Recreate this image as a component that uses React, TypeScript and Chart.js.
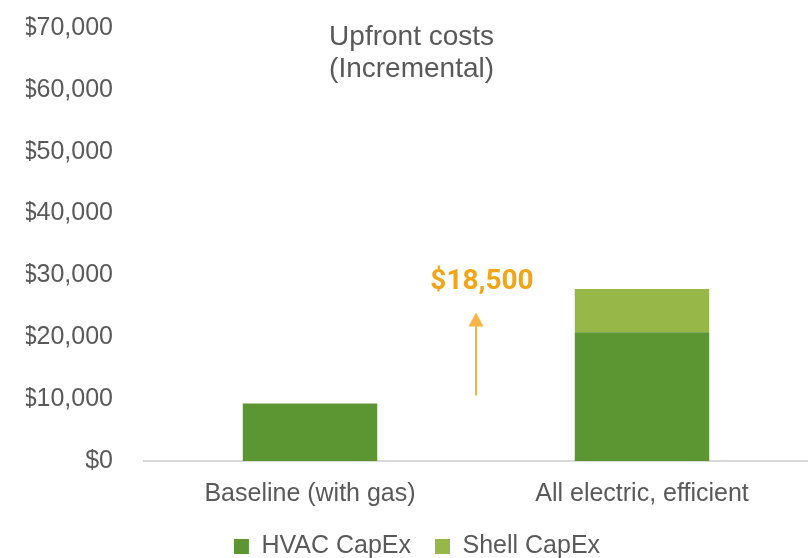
import React, { useEffect, useRef } from "react";
import { Chart, registerables } from "chart.js";

Chart.register(...registerables);

const categories = ["Baseline (with gas)", "All electric, efficient"];
const seriesNames = ["HVAC CapEx", "Shell CapEx"];
const hvacCapex = [9300, 20800];
const shellCapex = [0, 7000];
const yTickValues = [0, 10000, 20000, 30000, 40000, 50000, 60000, 70000];
const titleLines = ["Upfront costs", "(Incremental)"];
const deltaLabel = "$18,500";
const arrowFromValue = 10600;
const arrowToValue = 24000;
const deltaLabelValue = 29000;

const FONT = '"Liberation Sans", Arial, sans-serif';
const TEXT_GRAY = "#595959";
const HVAC_COLOR = "#5B9632";
const SHELL_COLOR = "#97B848";
const ORANGE_TEXT = "#F2A516";
const ORANGE_LINE = "#F7B446";

const fmt = (v: number) => "$" + v.toLocaleString("en-US");

const annotationPlugin = {
  id: "upfrontAnnotations",
  afterDatasetsDraw(chart: any) {
    const { ctx, chartArea, scales } = chart;
    const x = scales.x;
    const y = scales.y;
    ctx.save();
    // Title inside plot
    ctx.font = `28px ${FONT}`;
    ctx.fillStyle = TEXT_GRAY;
    ctx.textAlign = "center";
    ctx.textBaseline = "alphabetic";
    const tx = chartArea.left + chartArea.width * 0.403;
    ctx.fillText(titleLines[0], tx, chartArea.top + 17);
    ctx.fillText(titleLines[1], tx, chartArea.top + 49);

    // Arrow between categories
    const ax = (x.getPixelForValue(0) + x.getPixelForValue(1)) / 2;
    const yFrom = y.getPixelForValue(arrowFromValue);
    const yTo = y.getPixelForValue(arrowToValue);
    ctx.strokeStyle = ORANGE_LINE;
    ctx.lineWidth = 2;
    ctx.beginPath();
    ctx.moveTo(ax, yFrom);
    ctx.lineTo(ax, yTo + 12);
    ctx.stroke();
    ctx.fillStyle = ORANGE_LINE;
    ctx.beginPath();
    ctx.moveTo(ax, yTo);
    ctx.lineTo(ax - 7.5, yTo + 14);
    ctx.lineTo(ax + 7.5, yTo + 14);
    ctx.closePath();
    ctx.fill();

    // Delta label
    ctx.font = `bold 28px Roboto, ${FONT}`;
    ctx.fillStyle = ORANGE_TEXT;
    ctx.textAlign = "center";
    ctx.textBaseline = "middle";
    ctx.fillText(deltaLabel, ax + 6, y.getPixelForValue(deltaLabelValue));
    ctx.restore();
  },
};

export default function App() {
  const canvasRef = useRef<HTMLCanvasElement | null>(null);

  useEffect(() => {
    if (!canvasRef.current) return;
    const chart = new Chart(canvasRef.current, {
      type: "bar",
      data: {
        labels: categories,
        datasets: [
          {
            label: seriesNames[0],
            data: hvacCapex,
            backgroundColor: HVAC_COLOR,
            borderWidth: 0,
          },
          {
            label: seriesNames[1],
            data: shellCapex,
            backgroundColor: SHELL_COLOR,
            borderWidth: 0,
          },
        ],
      },
      options: {
        animation: false,
        responsive: true,
        maintainAspectRatio: false,
        layout: { padding: { top: 28, left: 26, right: 0, bottom: 0 } },
        datasets: {
          bar: { categoryPercentage: 1, barPercentage: 0.405 },
        },
        plugins: {
          title: { display: false },
          tooltip: { enabled: false },
          legend: {
            display: true,
            position: "bottom",
            labels: {
              font: { family: FONT, size: 25 },
              color: TEXT_GRAY,
              boxWidth: 15,
              boxHeight: 15,
              padding: 24,
            },
          },
        },
        scales: {
          x: {
            stacked: true,
            grid: { display: false, drawTicks: false },
            border: { display: true, color: "#D9D9D9", width: 2 },
            afterFit: (axis: any) => {
              axis.height = 49;
              axis.paddingLeft = 0;
              axis.paddingRight = 0;
            },
            ticks: {
              font: { family: FONT, size: 25 },
              color: TEXT_GRAY,
              padding: 18,
              maxRotation: 0,
            },
          },
          y: {
            stacked: true,
            min: yTickValues[0],
            max: yTickValues[yTickValues.length - 1],
            grid: { display: false, drawTicks: false },
            border: { display: false },
            afterFit: (axis: any) => {
              axis.width = 118;
              axis.paddingTop = 0;
              axis.paddingBottom = 0;
            },
            afterBuildTicks: (axis: any) => {
              axis.ticks = yTickValues.map((v) => ({ value: v }));
            },
            ticks: {
              font: { family: FONT, size: 25 },
              color: TEXT_GRAY,
              padding: 31,
              callback: (v: any) => fmt(Number(v)),
            },
          },
        },
      },
      plugins: [annotationPlugin],
    });
    return () => chart.destroy();
  }, []);

  return (
    <div style={{ position: "absolute", left: 0, top: 0, width: 808, height: 569 }}>
      <canvas ref={canvasRef} />
    </div>
  );
}
